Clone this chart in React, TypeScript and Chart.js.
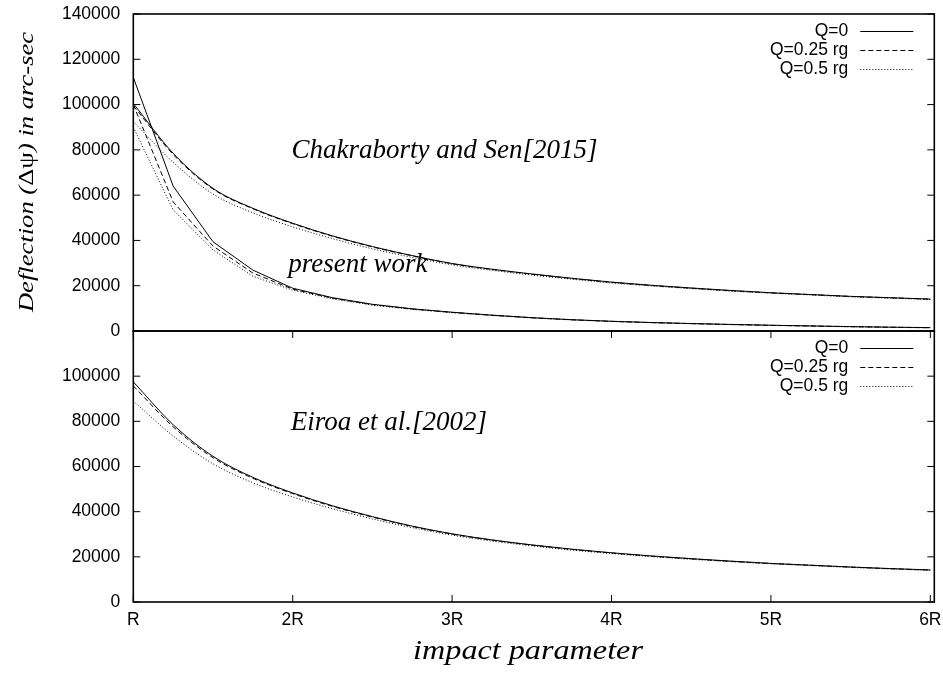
import React, { useEffect, useRef } from 'react';
import { Chart, registerables } from 'chart.js';

Chart.register(...registerables);

// ---------------- data ----------------
const impactParameter = [1, 1.25, 1.5, 1.75, 2, 2.25, 2.5, 2.75, 3, 3.25, 3.5, 3.75, 4, 4.25, 4.5, 4.75, 5, 5.25, 5.5, 5.75, 6];

// Chakraborty and Sen [2015]
const chakQ0 = [100500, 78500, 63000, 54200, 47600, 42000, 37300, 33300, 29800, 27300, 25200, 23300, 21600, 20200, 19000, 17900, 16900, 16100, 15300, 14700, 14100];
const chakQ025 = [99500, 78000, 62700, 54000, 47400, 41850, 37150, 33200, 29700, 27200, 25100, 23200, 21500, 20100, 18900, 17800, 16850, 16050, 15250, 14650, 14050];
const chakQ05 = [92500, 74500, 60500, 52200, 46000, 40800, 36300, 32500, 29200, 26800, 24700, 22900, 21200, 19900, 18700, 17600, 16700, 15900, 15100, 14500, 13900];

// present work
const presentQ0 = [112000, 64000, 39400, 26900, 18900, 14700, 11800, 9800, 8300, 7000, 5900, 5000, 4300, 3750, 3300, 2900, 2550, 2250, 1950, 1700, 1500];
const presentQ025 = [100000, 57000, 37500, 25600, 18500, 14500, 11650, 9700, 8200, 6950, 5850, 4950, 4250, 3700, 3250, 2850, 2500, 2200, 1900, 1650, 1450];
const presentQ05 = [90000, 53500, 35800, 24200, 18000, 14200, 11450, 9550, 8100, 6850, 5750, 4880, 4200, 3650, 3200, 2800, 2450, 2150, 1850, 1600, 1400];

// Eiroa et al. [2002]
const eiroaQ0 = [97500, 78500, 64500, 55200, 48300, 42600, 37800, 33600, 30200, 27500, 25300, 23400, 21800, 20400, 19200, 18100, 17100, 16300, 15500, 14800, 14200];
const eiroaQ025 = [95700, 77600, 63900, 54800, 48000, 42350, 37600, 33450, 30050, 27400, 25200, 23300, 21700, 20300, 19100, 18000, 17050, 16250, 15450, 14750, 14150];
const eiroaQ05 = [89000, 73500, 61200, 52800, 46500, 41300, 36800, 32900, 29600, 27000, 24850, 23000, 21450, 20100, 18900, 17850, 16900, 16100, 15300, 14600, 14000];

const legendLabels = ['Q=0', 'Q=0.25 rg', 'Q=0.5 rg'];
const xTickValues = [1, 2, 3, 4, 5, 6];
const xTickLabels = ['R', '2R', '3R', '4R', '5R', '6R'];
const yTopTicks = [0, 20000, 40000, 60000, 80000, 100000, 120000, 140000];
const yBottomTicks = [0, 20000, 40000, 60000, 80000, 100000];

const xTitle = 'impact parameter';
const yTitleParts = ['Deflection (', 'Δψ', ') in arc-sec'];
const topNotes = ['Chakraborty and Sen[2015]', 'present work'];
const bottomNotes = ['Eiroa et al.[2002]'];

// ---------------- styles ----------------
const SANS = '"Liberation Sans", Arial, Helvetica, sans-serif';
const SERIF = '"Liberation Serif", "Times New Roman", Times, serif';
const DASHES: number[][] = [[], [5, 3], [1, 2]];
const PLOT_LEFT = 133.3;
const PLOT_RIGHT_PAD = 8.7;
const TICK_LEN = 7;

function makeDatasets(series: number[][], smooth: boolean, yID: string) {
  return series.map((vals, i) => ({
    label: legendLabels[i % 3],
    data: vals.map((y, j) => ({ x: impactParameter[j], y })),
    borderColor: '#000',
    borderWidth: 1,
    borderDash: DASHES[i % 3],
    pointRadius: 0,
    fill: false,
    tension: 0,
    cubicInterpolationMode: smooth ? ('monotone' as const) : ('default' as const),
    yAxisID: yID,
  }));
}

const framePlugin = (withXTicks: boolean) => ({
  id: 'frame',
  afterDatasetsDraw(chart: any) {
    const { ctx, chartArea: a, scales } = chart;
    ctx.save();
    ctx.strokeStyle = '#000';
    ctx.lineWidth = 1;
    ctx.setLineDash([]);
    ctx.beginPath();
    const ys = scales.y;
    ys.ticks.forEach((t: any) => {
      const p = ys.getPixelForValue(t.value);
      ctx.moveTo(a.left, p);
      ctx.lineTo(a.left + TICK_LEN, p);
      ctx.moveTo(a.right, p);
      ctx.lineTo(a.right - TICK_LEN, p);
    });
    if (withXTicks) {
      const xs = scales.x;
      xs.ticks.forEach((t: any) => {
        const p = xs.getPixelForValue(t.value);
        ctx.moveTo(p, a.bottom);
        ctx.lineTo(p, a.bottom - TICK_LEN);
        ctx.moveTo(p, a.top);
        ctx.lineTo(p, a.top + TICK_LEN);
      });
    }
    ctx.stroke();
    ctx.lineWidth = 1.6;
    ctx.strokeRect(a.left, a.top, a.right - a.left, a.bottom - a.top);
    ctx.restore();
  },
});

const legendPlugin = {
  id: 'gpLegend',
  afterDatasetsDraw(chart: any) {
    const { ctx, chartArea: a } = chart;
    ctx.save();
    ctx.font = `17.5px ${SANS}`;
    ctx.fillStyle = '#000';
    ctx.textAlign = 'right';
    ctx.textBaseline = 'middle';
    for (let i = 0; i < 3; i++) {
      const ds = chart.data.datasets[i];
      const y = a.top + 17.5 + i * 19;
      ctx.fillText(ds.label, a.right - 86, y);
      ctx.strokeStyle = '#000';
      ctx.lineWidth = 1;
      ctx.setLineDash(ds.borderDash || []);
      ctx.beginPath();
      ctx.moveTo(a.right - 74, y);
      ctx.lineTo(a.right - 21, y);
      ctx.stroke();
    }
    ctx.restore();
  },
};

const notesPlugin = (notes: { text: string; x: number; y: number }[]) => ({
  id: 'notes',
  afterDraw(chart: any) {
    const { ctx } = chart;
    ctx.save();
    ctx.font = `italic 27px ${SERIF}`;
    ctx.fillStyle = '#000';
    ctx.textAlign = 'left';
    ctx.textBaseline = 'alphabetic';
    notes.forEach((n) => ctx.fillText(n.text, n.x, n.y));
    ctx.restore();
  },
});

const yTitlePlugin = {
  id: 'yTitle',
  afterDraw(chart: any) {
    const { ctx } = chart;
    ctx.save();
    const fonts = [`italic 20px ${SERIF}`, `20px ${SERIF}`, `italic 20px ${SERIF}`];
    const widths = yTitleParts.map((t, i) => {
      ctx.font = fonts[i];
      return ctx.measureText(t).width;
    });
    const total = widths.reduce((s, w) => s + w, 0);
    ctx.translate(33, 172);
    ctx.rotate(-Math.PI / 2);
    ctx.scale(1.33, 1);
    ctx.fillStyle = '#000';
    ctx.textBaseline = 'alphabetic';
    ctx.textAlign = 'left';
    let x = -total / 2;
    yTitleParts.forEach((t, i) => {
      ctx.font = fonts[i];
      ctx.fillText(t, x, 0);
      x += widths[i];
    });
    ctx.restore();
  },
};

const xTitlePlugin = {
  id: 'xTitle',
  afterDraw(chart: any) {
    const { ctx, chartArea: a } = chart;
    ctx.save();
    ctx.font = `italic 28px ${SERIF}`;
    ctx.fillStyle = '#000';
    ctx.textAlign = 'center';
    ctx.textBaseline = 'alphabetic';
    ctx.translate(528, a.bottom + 57.3);
    ctx.scale(1.15, 1);
    ctx.fillText(xTitle, 0, 0);
    ctx.restore();
  },
};

function xScale(show: boolean) {
  return {
    type: 'linear' as const,
    min: 1,
    max: 6.025,
    display: show,
    afterBuildTicks: (s: any) => {
      s.ticks = xTickValues.map((v) => ({ value: v }));
    },
    afterFit: (s: any) => {
      s.height = show ? 71 : 0;
      s.paddingLeft = 0;
      s.paddingRight = 0;
      s.paddingTop = 0;
      s.paddingBottom = 0;
    },
    ticks: {
      callback: (v: any) => {
        const i = xTickValues.indexOf(Number(v));
        return i >= 0 ? xTickLabels[i] : '';
      },
      font: { family: SANS, size: 17.5 },
      color: '#000',
      padding: 8,
      maxRotation: 0,
      autoSkip: false,
    },
    grid: { display: false, drawTicks: false },
    border: { display: false },
  };
}

function yScale(max: number, tickVals: number[]) {
  return {
    type: 'linear' as const,
    min: 0,
    max,
    afterBuildTicks: (s: any) => {
      s.ticks = tickVals.map((v) => ({ value: v }));
    },
    afterFit: (s: any) => {
      s.width = PLOT_LEFT;
      s.paddingTop = 0;
      s.paddingBottom = 0;
      s.paddingLeft = 0;
      s.paddingRight = 0;
    },
    ticks: {
      callback: (v: any) => String(v),
      font: { family: SANS, size: 17.5 },
      color: '#000',
      padding: 13,
      autoSkip: false,
    },
    grid: { display: false, drawTicks: false },
    border: { display: false },
  };
}

export default function App() {
  const topRef = useRef<HTMLCanvasElement>(null);
  const botRef = useRef<HTMLCanvasElement>(null);

  useEffect(() => {
    const top = new Chart(topRef.current as HTMLCanvasElement, {
      type: 'line',
      data: {
        datasets: [
          ...makeDatasets([chakQ0, chakQ025, chakQ05], true, 'y'),
          ...makeDatasets([presentQ0, presentQ025, presentQ05], false, 'y'),
        ] as any,
      },
      options: {
        responsive: false,
        animation: false,
        devicePixelRatio: 1,
        layout: { padding: { left: 0, top: 14, right: PLOT_RIGHT_PAD, bottom: 14 } },
        plugins: { legend: { display: false }, tooltip: { enabled: false } },
        scales: { x: xScale(false), y: yScale(140000, yTopTicks) } as any,
      },
      plugins: [
        framePlugin(false),
        legendPlugin,
        notesPlugin([
          { text: topNotes[0], x: 291.5, y: 158.3 },
          { text: topNotes[1], x: 288.3, y: 271.7 },
        ]),
        yTitlePlugin,
      ],
    });

    const bottom = new Chart(botRef.current as HTMLCanvasElement, {
      type: 'line',
      data: {
        datasets: makeDatasets([eiroaQ0, eiroaQ025, eiroaQ05], true, 'y') as any,
      },
      options: {
        responsive: false,
        animation: false,
        devicePixelRatio: 1,
        layout: { padding: { left: 0, top: 11, right: PLOT_RIGHT_PAD, bottom: 0 } },
        plugins: { legend: { display: false }, tooltip: { enabled: false } },
        scales: { x: xScale(true), y: yScale(120000, yBottomTicks) } as any,
      },
      plugins: [
        framePlugin(true),
        legendPlugin,
        notesPlugin([{ text: bottomNotes[0], x: 290.7, y: 110 }]),
        xTitlePlugin,
      ],
    });

    return () => {
      top.destroy();
      bottom.destroy();
    };
  }, []);

  return (
    <div style={{ position: 'absolute', left: 0, top: 0, width: 943, height: 673, background: '#fff' }}>
      <canvas ref={topRef} width={943} height={345} style={{ position: 'absolute', left: 0, top: 0 }} />
      <canvas ref={botRef} width={943} height={353} style={{ position: 'absolute', left: 0, top: 320 }} />
    </div>
  );
}
